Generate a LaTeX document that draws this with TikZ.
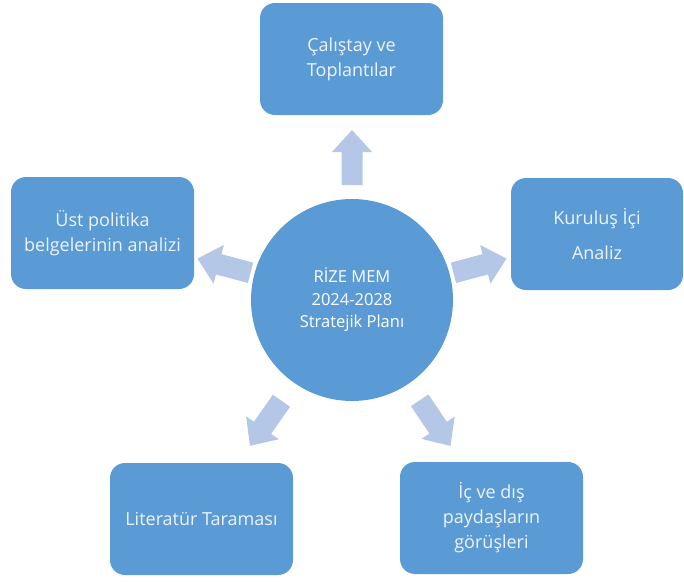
\documentclass[tikz,border=0pt]{standalone}
\usepackage{fontspec}
\setmainfont{Open Sans}
\definecolor{mavi}{RGB}{91,155,213}
\definecolor{acikmavi}{RGB}{180,199,231}
\definecolor{yazi}{RGB}{238,243,250}
\begin{document}
\begin{tikzpicture}[x=1pt,y=-1pt,
    kutu/.style={fill=mavi,rounded corners=15pt,minimum width=183pt,minimum height=112pt,
        inner sep=0pt,align=center,text=yazi,font=\fontsize{18}{25}\selectfont},
    merkez/.style={circle,fill=mavi,minimum size=202pt,inner sep=0pt,align=center,
        text=white,font=\fontsize{16.5}{22.5}\selectfont}]
    \useasboundingbox (0,0) rectangle (684,581);
    \def\u{55}%ok boyu
    \def\g{33}%gövde boyu
    % merkez
    \node[merkez] (plan) at (352,300) {RİZE MEM\\2024-2028\\Stratejik Planı};
    % kutular
    \node[kutu] (calistay) at (351.5,59) {Çalıştay ve\\Toplantılar};
    \node[kutu] (ustpolitika) at (102.5,233) {Üst politika\\belgelerinin analizi};
    \node[kutu,minimum width=172pt] (kurulus) at (597,234) {Kuruluş İçi\\[10pt]Analiz};
    \node[kutu] (literatur) at (201.5,519) {Literatür Taraması};
    \node[kutu] (paydas) at (491.5,518) {İç ve dış\\paydaşların\\görüşleri};
    % oklar
    \foreach \a/\s in {90/115,165/105,15/105,235/123,304/121}
        \fill[acikmavi,shift={(plan.center)},rotate=\a]
        (\s,-10.5)--({\s+\g},-10.5)--({\s+\g},-20)--({\s+\u},0)--({\s+\g},20)--({\s+\g},10.5)--(\s,10.5)--cycle;
\end{tikzpicture}
\end{document}
